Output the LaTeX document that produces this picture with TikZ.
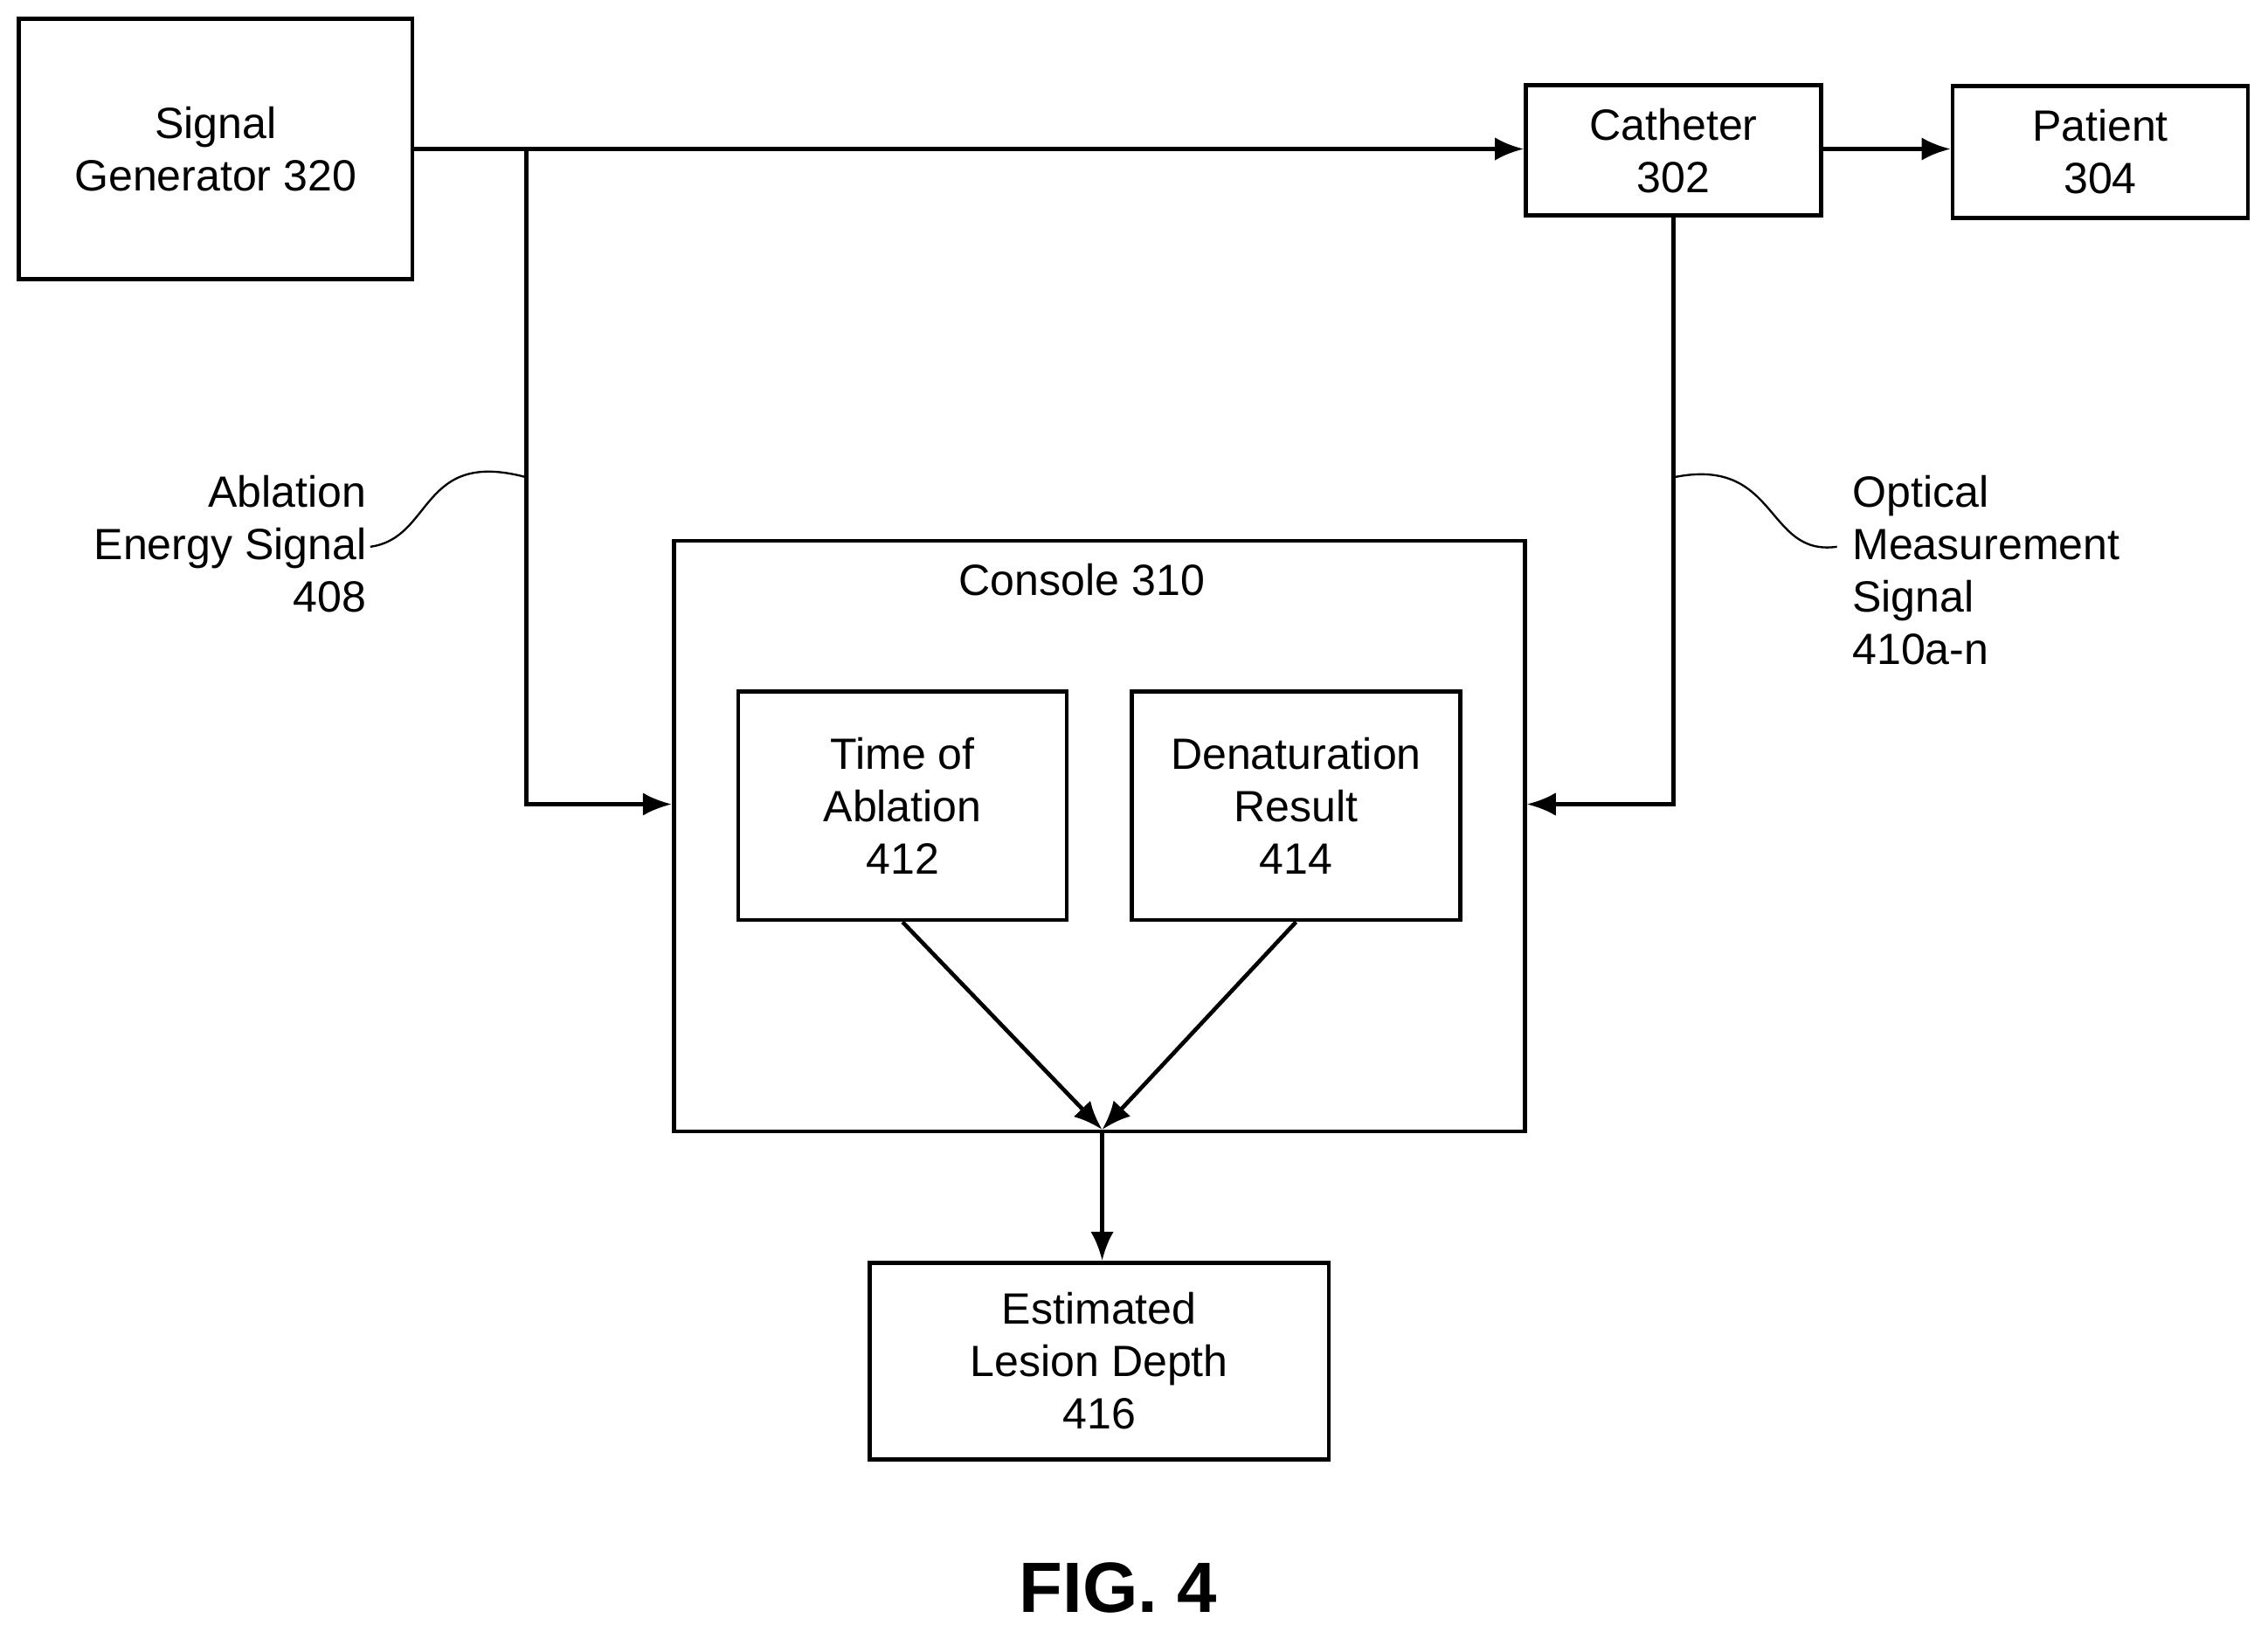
\documentclass[tikz,border=0pt]{standalone}
\usepackage{fontspec}
\setmainfont{Liberation Sans}
\usetikzlibrary{arrows.meta}
\begin{document}
\begin{tikzpicture}
  [x=0.01cm,y=-0.01cm,
   box/.style={draw,thick,align=center,inner sep=0pt,font=\fontsize{8.6}{10.3}\selectfont},
   lbl/.style={font=\fontsize{8.6}{10.3}\selectfont,inner sep=0pt},
   arr/.style={thick,-{Latex[length=2mm,width=1.6mm]}}]
  \useasboundingbox (0,0) rectangle (1568,1128);
  % blocks
  \node[box,minimum width=2.72cm,minimum height=1.80cm] (gen) at (149,103) {Signal\\Generator 320};
  \node[box,minimum width=2.04cm,minimum height=0.90cm] (cath) at (1157,104) {Catheter\\302};
  \node[box,minimum width=2.04cm,minimum height=0.91cm] (pat) at (1452,105) {Patient\\304};
  \node[box,minimum width=5.88cm,minimum height=4.08cm] (con) at (760,578) {};
  \node[lbl] (conlbl) at (748,401) {Console 310};
  \node[box,minimum width=2.27cm,minimum height=1.58cm] (time) at (624,557) {Time of\\Ablation\\412};
  \node[box,minimum width=2.27cm,minimum height=1.58cm] (den) at (896,557) {Denaturation\\Result\\414};
  \node[box,minimum width=3.17cm,minimum height=1.36cm] (est) at (760,941) {Estimated\\Lesion Depth\\416};
  \coordinate (tip) at (762,781);
  \coordinate (split) at (364,103);
  % connectors
  \draw[arr] (gen.east |- split) -- (cath.west |- split);
  \draw[arr] (cath.east |- split) -- (pat.west |- split);
  \draw[arr] (split) |- (con.west |- 0,556);
  \draw[arr] (cath.south) |- (con.east |- 0,556);
  \draw[arr] (time.south) -- (tip);
  \draw[arr] (den.south) -- (tip);
  \draw[arr] (tip) -- (est.north -| tip);
  % signal labels
  \node[lbl,align=right,anchor=north east] (abl) at (254,328) {Ablation\\Energy Signal\\408};
  \node[lbl,align=left,anchor=north west] (opt) at (1280,328) {Optical\\Measurement\\Signal\\410a-n};
  \draw (256,378) .. controls (300,372) and (290,310) .. (364,330);
  \draw (1157,330) .. controls (1230,315) and (1220,385) .. (1270,378);
  \node[font=\bfseries\fontsize{14}{16}\selectfont] (fig) at (773,1098) {FIG. 4};
\end{tikzpicture}
\end{document}
